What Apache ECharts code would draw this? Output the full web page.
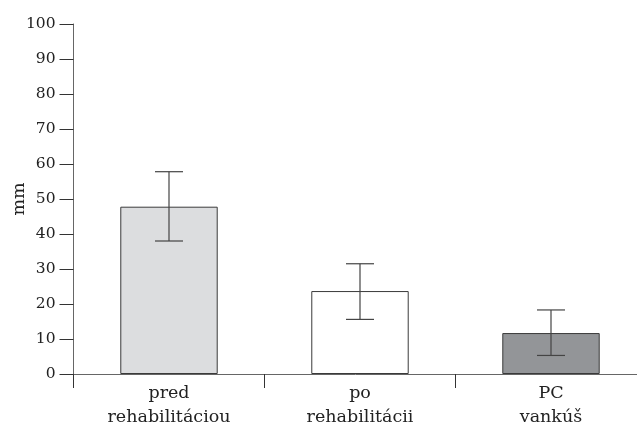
<!DOCTYPE html>
<html>
<head>
<meta charset="utf-8">
<script src="https://cdn.jsdelivr.net/npm/echarts@6/dist/echarts.min.js"></script>
<style>html,body{margin:0;padding:0;background:#fff}#c{width:637px;height:432px}</style>
</head>
<body>
<div id="c"></div>
<script>
const categories = ['pred\nrehabilitáciou', 'po\nrehabilitácii', 'PC\nvankúš'];
const means = [47.8, 23.7, 11.7];
const errLow = [38.0, 15.6, 5.3];
const errHigh = [57.8, 31.5, 18.3];
const barColors = ['#dcdddf', '#ffffff', '#939598'];
const yTicks = [0, 10, 20, 30, 40, 50, 60, 70, 80, 90, 100];

const font = 'DejaVu Serif';
const axisColor = '#666';

const chart = echarts.init(document.getElementById('c'), null, {renderer: 'canvas'});
chart.setOption({
  animation: false,
  backgroundColor: '#fff',
  grid: {left: 73.5, top: 24, width: 573, height: 350, containLabel: false, outerBoundsMode: 'none'},
  xAxis: {
    type: 'category',
    data: categories,
    axisLine: {lineStyle: {color: axisColor, width: 1}},
    axisTick: {show: true, inside: false, length: 14, lineStyle: {color: '#333', width: 1}},
    axisLabel: {color: '#222', fontFamily: font, fontSize: 17.5, margin: 7, lineHeight: 24}
  },
  yAxis: {
    type: 'value',
    min: yTicks[0], max: yTicks[yTicks.length - 1], interval: 10,
    name: 'mm', nameLocation: 'middle', nameGap: 45, nameRotate: 90, nameMoveOverlap: false,
    nameTextStyle: {color: '#222', fontFamily: font, fontSize: 17.5},
    axisLine: {show: true, lineStyle: {color: axisColor, width: 1}},
    axisTick: {show: true, inside: false, length: 14, lineStyle: {color: '#333', width: 1}},
    axisLabel: {color: '#222', fontFamily: font, fontSize: 15.5, margin: 18},
    splitLine: {show: false}
  },
  series: [
    {
      type: 'bar',
      barWidth: '51%',
      data: means.map((v, i) => ({value: v, itemStyle: {color: barColors[i]}})),
      itemStyle: {borderColor: '#3a3a3a', borderWidth: 1},
      z: 2
    },
    {
      type: 'custom',
      z: 3,
      data: categories.map((c, i) => [i, errLow[i], errHigh[i]]),
      renderItem: function (params, api) {
        const x = api.value(0);
        const lo = api.coord([x, api.value(1)]);
        const hi = api.coord([x, api.value(2)]);
        const hw = 14;
        const style = {stroke: '#444', lineWidth: 1.2};
        return {
          type: 'group',
          children: [
            {type: 'line', shape: {x1: lo[0], y1: lo[1], x2: hi[0], y2: hi[1]}, style: style},
            {type: 'line', shape: {x1: lo[0] - hw, y1: lo[1], x2: lo[0] + hw, y2: lo[1]}, style: style},
            {type: 'line', shape: {x1: hi[0] - hw, y1: hi[1], x2: hi[0] + hw, y2: hi[1]}, style: style}
          ]
        };
      }
    }
  ]
});
</script>
</body>
</html>
